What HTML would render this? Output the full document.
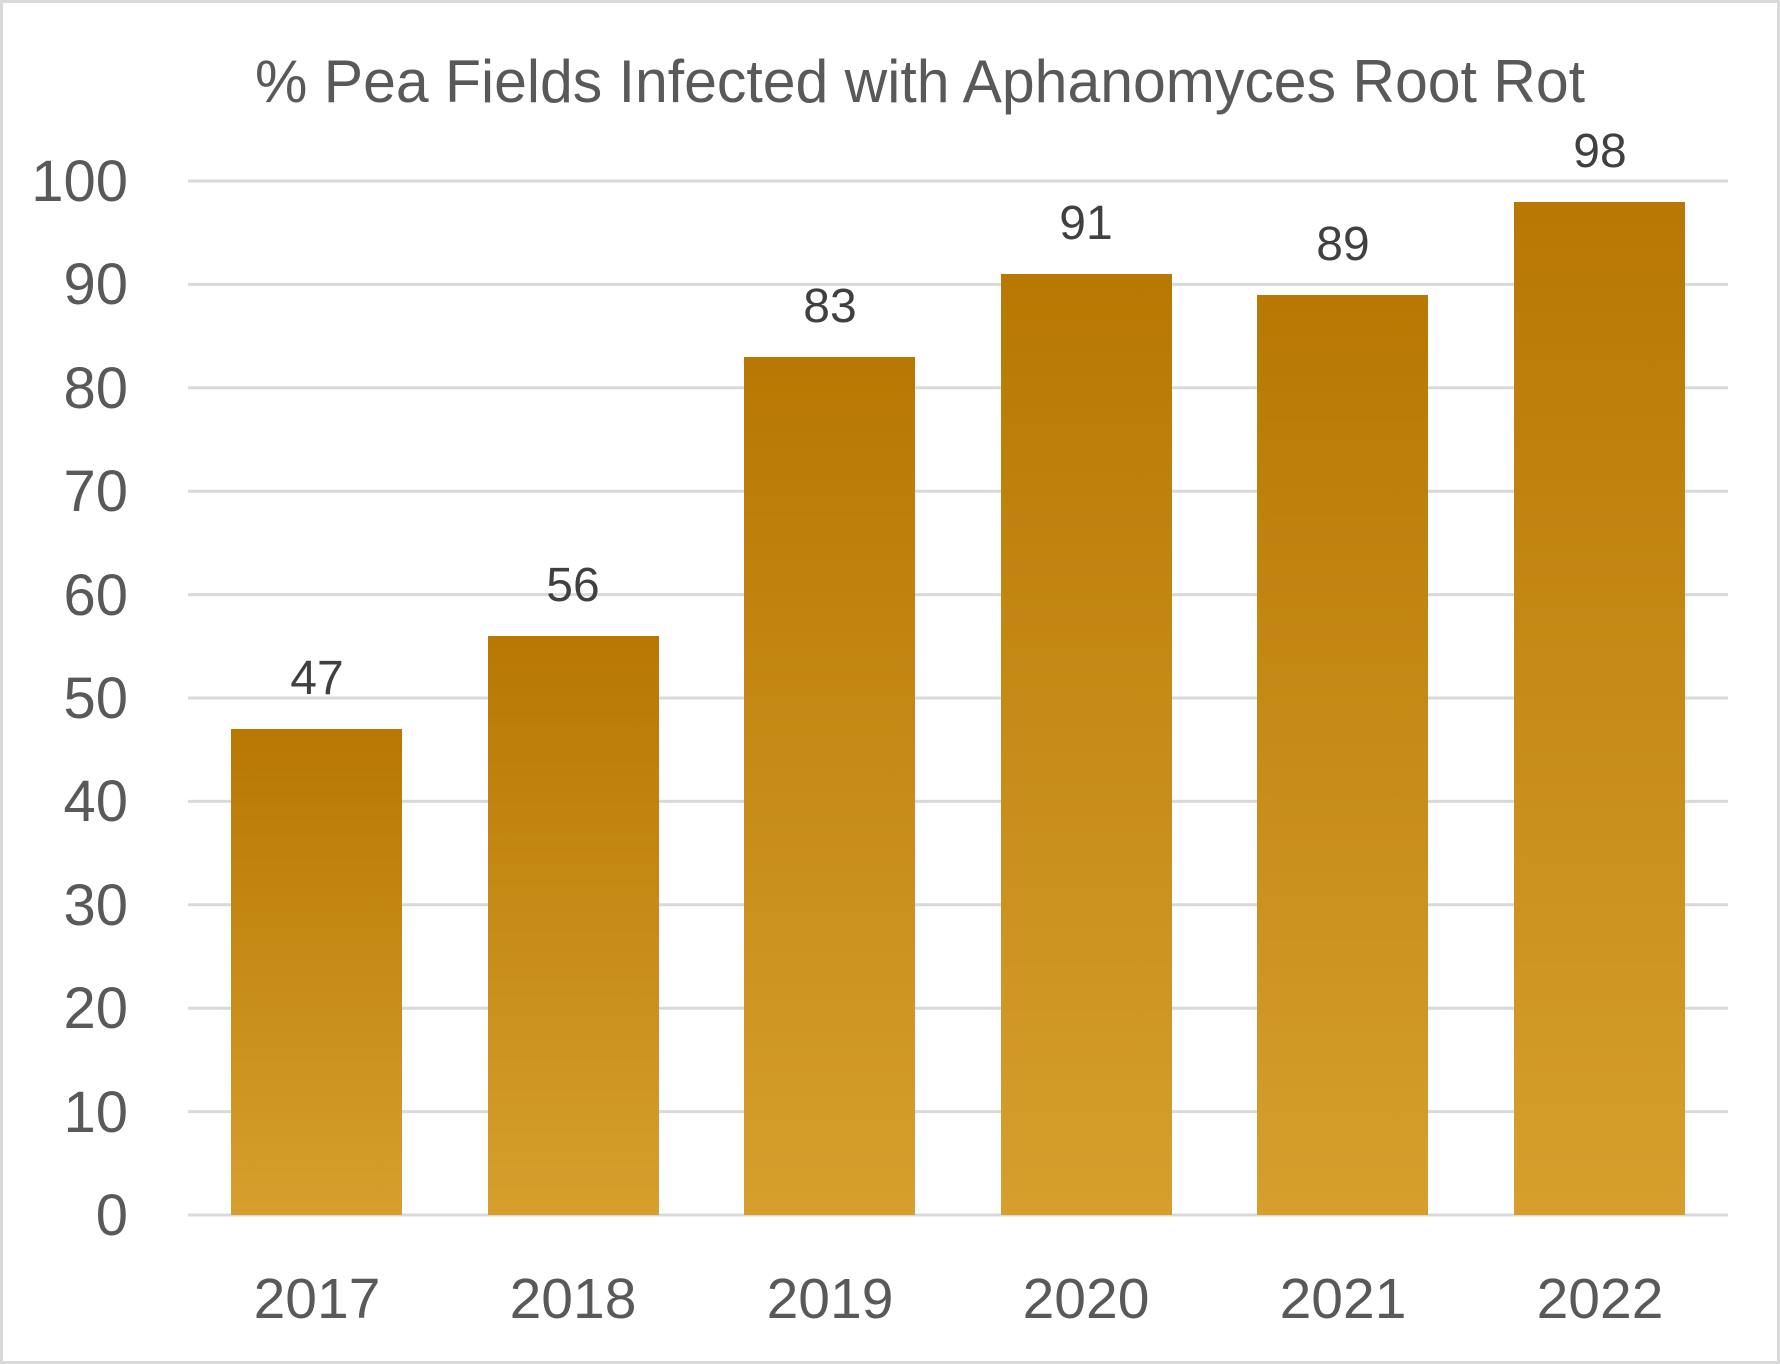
<!DOCTYPE html>
<html><head><meta charset="utf-8"><style>
html,body{margin:0;padding:0;background:#fff;}
svg{display:block;}
</style></head><body>
<svg width="1780" height="1364" viewBox="0 0 1780 1364" xmlns="http://www.w3.org/2000/svg" font-family="'Liberation Sans', sans-serif">
<defs>
<linearGradient id="g" x1="0" y1="0" x2="0" y2="1">
<stop offset="0" stop-color="#b87803"/>
<stop offset="1" stop-color="#d69f2c"/>
</linearGradient>
</defs>
<rect x="1.5" y="1.5" width="1777" height="1361" fill="#fff" stroke="#d9d9d9" stroke-width="3"/>
<text x="920" y="102" font-size="60" fill="#595959" text-anchor="middle" textLength="1330" lengthAdjust="spacingAndGlyphs">% Pea Fields Infected with Aphanomyces Root Rot</text>
<g stroke="#d9d9d9" stroke-width="3">
<line x1="188" x2="1728" y1="181" y2="181"/>
<line x1="188" x2="1728" y1="284.4" y2="284.4"/>
<line x1="188" x2="1728" y1="387.8" y2="387.8"/>
<line x1="188" x2="1728" y1="491.2" y2="491.2"/>
<line x1="188" x2="1728" y1="594.6" y2="594.6"/>
<line x1="188" x2="1728" y1="698" y2="698"/>
<line x1="188" x2="1728" y1="801.4" y2="801.4"/>
<line x1="188" x2="1728" y1="904.8" y2="904.8"/>
<line x1="188" x2="1728" y1="1008.2" y2="1008.2"/>
<line x1="188" x2="1728" y1="1111.6" y2="1111.6"/>
<line x1="188" x2="1728" y1="1215" y2="1215"/>
</g>
<g font-size="58" fill="#595959" text-anchor="end">
<text x="128" y="201">100</text>
<text x="128" y="304">90</text>
<text x="128" y="408">80</text>
<text x="128" y="511">70</text>
<text x="128" y="615">60</text>
<text x="128" y="718">50</text>
<text x="128" y="821">40</text>
<text x="128" y="925">30</text>
<text x="128" y="1028">20</text>
<text x="128" y="1132">10</text>
<text x="128" y="1235">0</text>
</g>
<g fill="url(#g)">
<rect x="231" y="729" width="171" height="486"/>
<rect x="488" y="636" width="171" height="579"/>
<rect x="744" y="357" width="171" height="858"/>
<rect x="1001" y="274" width="171" height="941"/>
<rect x="1257" y="295" width="171" height="920"/>
<rect x="1514" y="202" width="171" height="1013"/>
</g>
<g font-size="48" fill="#404040" text-anchor="middle">
<text x="317" y="694">47</text>
<text x="573" y="601">56</text>
<text x="830" y="322">83</text>
<text x="1086" y="239">91</text>
<text x="1343" y="260">89</text>
<text x="1600" y="167">98</text>
</g>
<g font-size="57" fill="#595959" text-anchor="middle">
<text x="317" y="1318">2017</text>
<text x="573" y="1318">2018</text>
<text x="830" y="1318">2019</text>
<text x="1086" y="1318">2020</text>
<text x="1343" y="1318">2021</text>
<text x="1600" y="1318">2022</text>
</g>
</svg>
</body></html>
